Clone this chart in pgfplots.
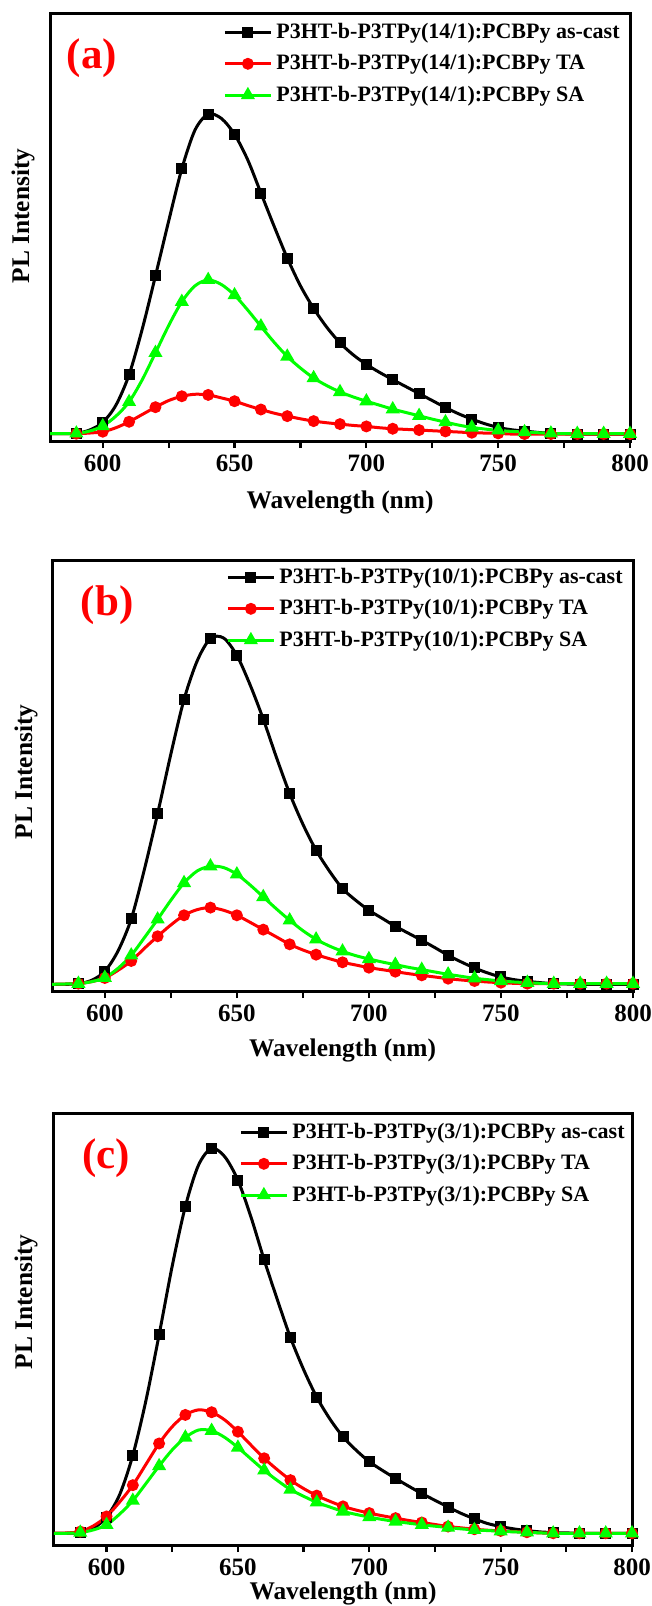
\documentclass[border=0pt]{standalone}
\usepackage{fontspec}
\setmainfont{Liberation Serif}
\usepackage{pgfplots}
\pgfplotsset{compat=1.18}
\definecolor{lime}{RGB}{0,255,0}
\pgfplotsset{
  panel/.style={
    scale only axis, xmin=580, xmax=800, ymin=0,
    xtick={600,650,700,750,800}, minor xtick={625,675,725,775},
    ytick=\empty, xtick pos=lower, tick align=outside,
    major tick length=3.5pt, minor tick length=3.5pt,
    every tick/.append style={black, line width=1.1pt},
    axis line style={line width=1.5pt},
    /pgf/number format/assume math mode=true,
    tick label style={font=\bfseries\fontsize{12.5}{14}\selectfont},
    label style={font=\bfseries\fontsize{12.7}{14}\selectfont},
    xlabel={Wavelength (nm)}, ylabel={PL Intensity},
    legend cell align=left,
    legend style={at={(1,1)}, anchor=north east, xshift=-3pt, yshift=-3pt,
      draw=none, fill=none, inner sep=0pt, row sep=2.5pt,
      font=\bfseries\fontsize{11}{13}\selectfont},
    legend image code/.code={\draw[##1, mark repeat=2, mark phase=2] plot coordinates {(0pt,0pt)(11.5pt,0pt)(23pt,0pt)};},
  },
  blk/.style={black, line width=1.5pt, smooth, mark=square*, mark size=2pt, mark repeat=2, mark phase=3, mark options={solid}},
  rd/.style={red, line width=1.5pt, smooth, mark=*, mark size=2.2pt, mark repeat=2, mark phase=3, mark options={solid}},
  gr/.style={lime, line width=1.5pt, smooth, mark=triangle*, mark size=2.6pt, mark repeat=2, mark phase=3, mark options={solid}},
}
\newcommand{\plab}[1]{\textcolor{red}{\bfseries\fontsize{21.5}{24}\selectfont #1}}
\begin{document}
\begin{tikzpicture}
\useasboundingbox (0,0) rectangle (326pt,-803pt);
% ---------- (a)
\begin{axis}[panel, at={(25pt,-6.5pt)}, anchor=north west, width=290pt, height=214pt, ymax=1291,
  ylabel style={at={(axis description cs:-0.0466,0.526)}, anchor=center},
  xlabel style={at={(axis description cs:0.5,0)}, anchor=center, yshift=-30.5pt}]
\addplot[blk] coordinates {(580,22)(585,22)(590,23)(595,33)(600,56)(605,108)(610,200)(615,338)(620,498)(625,663)(630,821)(635,938)(640,986)(645,973)(650,925)(655,848)(660,748)(665,648)(670,552)(675,468)(680,400)(685,343)(690,296)(695,260)(700,231)(705,207)(710,185)(715,164)(720,143)(725,122)(730,101)(735,82)(740,66)(745,52)(750,41)(755,34)(760,30)(765,26)(770,23)(775,22)(780,21)(785,21)(790,21)(795,21)(800,21)};
\addlegendentry{P3HT-b-P3TPy(14/1):PCBPy as-cast}
\addplot[rd] coordinates {(580,22)(585,22)(590,22)(595,24)(600,28)(605,40)(610,58)(615,80)(620,102)(625,122)(630,135)(635,141)(640,139)(645,130)(650,120)(655,107)(660,95)(665,84)(670,75)(675,67)(680,60)(685,55)(690,51)(695,47)(700,44)(705,40)(710,37)(715,35)(720,33)(725,31)(730,29)(735,27)(740,25)(745,24)(750,23)(755,21)(760,21)(765,21)(770,21)(775,21)(780,21)(785,21)(790,21)(795,21)(800,21)};
\addlegendentry{P3HT-b-P3TPy(14/1):PCBPy TA}
\addplot[gr] coordinates {(580,22)(585,22)(590,23)(595,30)(600,45)(605,75)(610,118)(615,185)(620,266)(625,348)(630,420)(635,468)(640,486)(645,472)(650,440)(655,395)(660,346)(665,298)(670,255)(675,220)(680,190)(685,167)(690,148)(695,133)(700,120)(705,108)(710,96)(715,86)(720,76)(725,66)(730,57)(735,48)(740,41)(745,36)(750,32)(755,29)(760,27)(765,25)(770,23)(775,22)(780,22)(785,22)(790,22)(795,22)(800,22)};
\addlegendentry{P3HT-b-P3TPy(14/1):PCBPy SA}
\node at (rel axis cs:0.072,0.895) {\plab{(a)}};
\end{axis}
% ---------- (b)
\begin{axis}[panel, at={(26pt,-280pt)}, anchor=north west, width=290.5pt, height=215.5pt, ymax=1292,
  ylabel style={at={(axis description cs:-0.0448,0.508)}, anchor=center},
  xlabel style={at={(axis description cs:0.5,0)}, anchor=center, yshift=-29.5pt},
  legend style={yshift=1pt}]
\addplot[blk] coordinates {(580,20)(585,20)(590,22)(595,32)(600,59)(605,120)(610,216)(615,365)(620,532)(625,710)(630,874)(635,990)(640,1057)(645,1058)(650,1006)(655,918)(660,815)(665,700)(670,592)(675,500)(680,422)(685,360)(690,307)(695,272)(700,242)(705,218)(710,194)(715,173)(720,152)(725,130)(730,107)(735,87)(740,69)(745,54)(750,42)(755,34)(760,29)(765,25)(770,22)(775,21)(780,20)(785,20)(790,20)(795,20)(800,20)};
\addlegendentry{P3HT-b-P3TPy(10/1):PCBPy as-cast}
\addplot[rd] coordinates {(580,20)(585,21)(590,22)(595,28)(600,39)(605,62)(610,90)(615,128)(620,164)(625,198)(630,227)(635,244)(640,250)(645,242)(650,227)(655,206)(660,184)(665,162)(670,140)(675,123)(680,109)(685,97)(690,86)(695,78)(700,70)(705,64)(710,58)(715,52)(720,47)(725,42)(730,37)(735,33)(740,30)(745,27)(750,25)(755,23)(760,22)(765,22)(770,22)(775,22)(780,22)(785,22)(790,22)(795,22)(800,22)};
\addlegendentry{P3HT-b-P3TPy(10/1):PCBPy TA}
\addplot[gr] coordinates {(580,20)(585,21)(590,22)(595,28)(600,40)(605,68)(610,107)(615,160)(620,215)(625,272)(630,324)(635,360)(640,374)(645,370)(650,350)(655,318)(660,282)(665,246)(670,212)(675,181)(680,155)(685,135)(690,119)(695,106)(700,96)(705,87)(710,79)(715,71)(720,64)(725,57)(730,50)(735,44)(740,38)(745,34)(750,30)(755,27)(760,25)(765,23)(770,22)(775,22)(780,22)(785,22)(790,22)(795,22)(800,22)};
\addlegendentry{P3HT-b-P3TPy(10/1):PCBPy SA}
\node at (rel axis cs:0.095,0.896) {\plab{(b)}};
\end{axis}
% ---------- (c)
\begin{axis}[panel, at={(27pt,-556.5pt)}, anchor=north west, width=289pt, height=216pt, ymax=1285,
  ylabel style={at={(axis description cs:-0.0484,0.5625)}, anchor=center},
  xlabel style={at={(axis description cs:0.5,0)}, anchor=center, yshift=-24pt},
  legend style={xshift=1.5pt}]
\addplot[blk] coordinates {(580,35)(585,35)(590,37)(595,50)(600,83)(605,150)(610,267)(615,430)(620,625)(625,830)(630,1007)(635,1130)(640,1180)(645,1155)(650,1085)(655,975)(660,848)(665,730)(670,617)(675,522)(680,440)(685,375)(690,322)(695,282)(700,248)(705,222)(710,198)(715,175)(720,153)(725,133)(730,113)(735,94)(740,78)(745,64)(750,55)(755,48)(760,43)(765,39)(770,37)(775,36)(780,35)(785,35)(790,35)(795,35)(800,35)};
\addlegendentry{P3HT-b-P3TPy(3/1):PCBPy as-cast}
\addplot[rd] coordinates {(580,35)(585,36)(590,40)(595,57)(600,85)(605,128)(610,178)(615,240)(620,302)(625,352)(630,387)(635,402)(640,395)(645,372)(650,337)(655,297)(660,258)(665,224)(670,193)(675,168)(680,147)(685,130)(690,115)(695,104)(700,95)(705,87)(710,80)(715,73)(720,67)(725,61)(730,55)(735,51)(740,47)(745,44)(750,42)(755,40)(760,38)(765,36)(770,35)(775,35)(780,35)(785,35)(790,35)(795,35)(800,35)};
\addlegendentry{P3HT-b-P3TPy(3/1):PCBPy TA}
\addplot[gr] coordinates {(580,35)(585,35)(590,37)(595,45)(600,60)(605,92)(610,132)(615,183)(620,235)(625,283)(630,320)(635,342)(640,340)(645,320)(650,290)(655,256)(660,222)(665,192)(670,165)(675,145)(680,127)(685,113)(690,100)(695,91)(700,83)(705,76)(710,70)(715,65)(720,60)(725,56)(730,52)(735,48)(740,45)(745,43)(750,41)(755,39)(760,38)(765,36)(770,35)(775,35)(780,35)(785,35)(790,35)(795,35)(800,35)};
\addlegendentry{P3HT-b-P3TPy(3/1):PCBPy SA}
\node at (rel axis cs:0.09,0.896) {\plab{(c)}};
\end{axis}
\end{tikzpicture}
\end{document}
